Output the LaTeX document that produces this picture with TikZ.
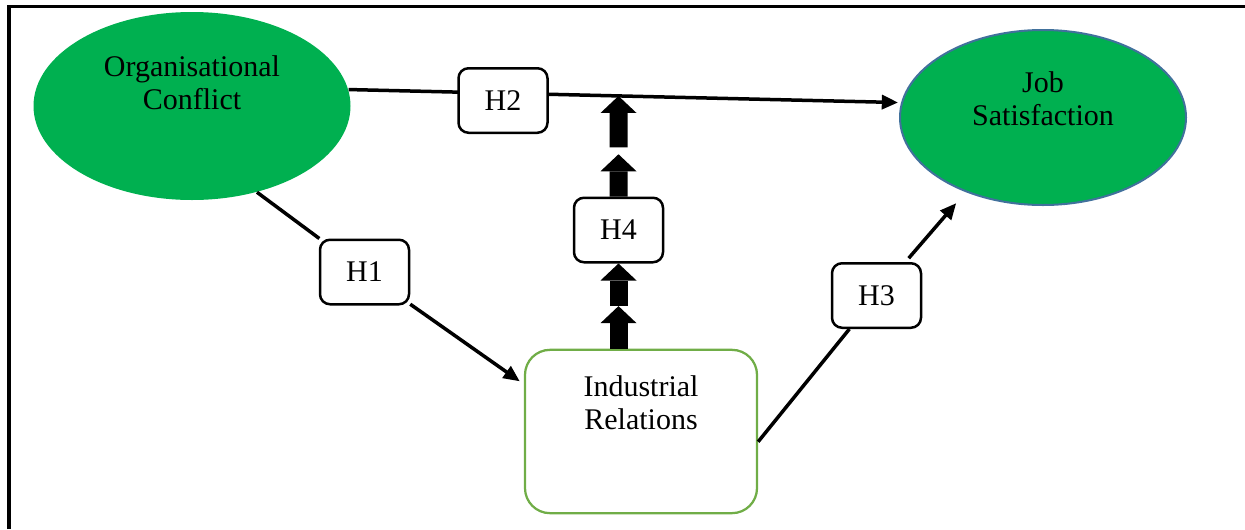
\documentclass[tikz,border=0pt]{standalone}
\usepackage{fontspec}
\setmainfont{Liberation Serif}
\usetikzlibrary{calc,shapes,arrows.meta}
\definecolor{vargreen}{HTML}{00B050}
\definecolor{irgreen}{HTML}{70AD47}
\definecolor{jsblue}{HTML}{41719C}

\begin{document}
\begin{tikzpicture}[x=4pt, y=-4pt,
  every node/.style = {font=\fontsize{12}{13.2}\selectfont, align=center},
  var/.style = {ellipse, fill=vargreen, inner sep=0pt},
  hbox/.style = {draw, line width=1pt, rounded corners=4pt, fill=white, minimum width=35.6pt, minimum height=25.8pt, inner sep=0pt},
  hyp/.style = {line width=1.4pt, -{Triangle[length=6.5pt,width=5.6pt]}},
  block/.style = {line width=7.2pt, -{Triangle[length=6.8pt,width=14.4pt,line width=0pt]}}]
 \useasboundingbox (0,0) rectangle (124.5,52.9);
 \draw[line width=1.2pt] (0.9,52.9) -- (0.9,0.67) -- (124.5,0.67);
 \node[var, minimum width=126.8pt, minimum height=75.2pt, text depth=19pt] (OC) at (19.2,10.6) {Organisational\\Conflict};
 \node[var, draw=jsblue, line width=0.8pt, minimum width=114.4pt, minimum height=70pt, text depth=14.8pt] (JS) at (104.3,11.75) {Job\\Satisfaction};
 \node[draw=irgreen, line width=0.9pt, rounded corners=10pt, minimum width=92.8pt, inner ysep=10.2pt, text depth=23.4pt] (IR) at (64.1,43.15) {Industrial\\Relations};
 \node[hbox] (H1) at (36.45,27.2) {H1};
 \node[hbox] (H3) at (87.65,29.55) {H3};
 \node[hbox] (H4) at (61.85,23.0) {H4};

 \draw[hyp, shorten >=2pt] (OC.-53) -- (H1) -- (IR.158);
 \draw[hyp, shorten <=2pt, shorten >=5.8pt] (IR.-5) -- (H3) -- (JS.224);
 \draw[hyp, shorten >=1.2pt] (OC.6) -- (JS.174);
 \node[hbox] (H2) at (50.3,10.05) {H2};

 \coordinate (hit) at ($(OC.6)!(H4.north)!(JS.174)$);
 \coordinate (m1) at ($(H4.south |- IR.north)!0.5!(H4.south)$);
 \coordinate (m2) at ($(H4.north)!0.42!(H4.north |- hit)$);
 \draw[block] (H4.south |- IR.north) -- (m1);
 \draw[block] (m1) -- (H4.south);
 \draw[block] (H4.north) -- (m2);
 \draw[block, shorten <=2.8pt] (m2) -- (H4.north |- hit);
\end{tikzpicture}
\end{document}
